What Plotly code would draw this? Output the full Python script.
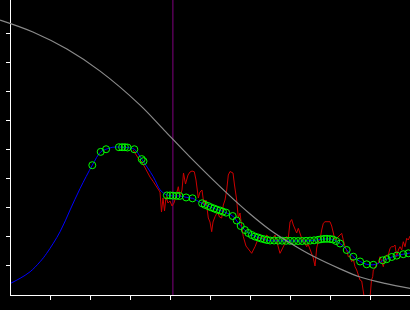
import plotly.graph_objects as go

# Gray reference curve
gray_x = [-0.26, 0.56, 1.41, 2.24, 3.24, 3.84, 4.49, 5.41, 5.99, 6.49, 6.99, 7.56, 8.24, 8.74, 9.36, 9.99]
gray_y = [9.47, 9.06, 8.47, 7.71, 6.54, 5.68, 4.75, 3.51, 2.79, 2.24, 1.79, 1.34, 0.90, 0.62, 0.40, 0.23]

# Blue smoothed curve
blue_x = [0.00, 0.24, 0.49, 0.74, 0.905, 1.24, 1.49, 1.74, 2.045, 2.255, 2.39, 2.56, 2.78, 2.91, 3.095,
          3.28, 3.57, 3.74, 3.86, 3.945, 4.11, 4.24, 4.39, 4.55, 4.66, 4.79, 4.99, 5.24, 5.41, 5.555,
          5.66, 5.76, 5.86, 6.03, 6.19, 6.36, 6.44, 6.86, 7.24, 7.56, 7.74, 7.91, 8.06, 8.16, 8.29,
          8.41, 8.56, 8.74, 8.905, 9.06, 9.19, 9.31, 9.41, 9.54, 9.66, 9.81, 9.99]
blue_y = [0.40, 0.575, 0.80, 1.147, 1.436, 2.18, 2.93, 3.67, 4.47, 4.93, 5.02, 5.09, 5.09, 5.08, 5.02,
          4.68, 4.07, 3.62, 3.48, 3.43, 3.416, 3.409, 3.364, 3.33, 3.254, 3.158, 3.03, 2.91, 2.824, 2.72,
          2.548, 2.359, 2.238, 2.066, 1.98, 1.911, 1.877, 1.866, 1.859, 1.877, 1.911, 1.935, 1.911, 1.842, 1.722,
          1.55, 1.326, 1.154, 1.057, 1.04, 1.085, 1.188, 1.24, 1.309, 1.36, 1.402, 1.446]

# Green selected points
green_x = [2.045, 2.255, 2.39, 2.71, 2.79, 2.86, 2.925, 3.095, 3.28, 3.325,
           3.91, 3.99, 4.06, 4.15, 4.225, 4.39, 4.55,
           4.79, 4.86, 4.94, 5.01, 5.09, 5.16, 5.24, 5.31, 5.39,
           5.555, 5.655, 5.755, 5.86, 5.945, 6.03, 6.11, 6.19, 6.26, 6.34, 6.41, 6.49,
           6.59, 6.69, 6.79, 6.89, 6.99, 7.09, 7.19, 7.29, 7.39, 7.49, 7.59, 7.69, 7.76,
           7.84, 7.91, 7.99, 8.06, 8.14, 8.24, 8.405, 8.57, 8.74, 8.905, 9.07,
           9.305, 9.405, 9.53, 9.655, 9.82, 9.945]
green_y = [4.47, 4.93, 5.02, 5.09, 5.09, 5.09, 5.08, 5.02, 4.68, 4.61,
           3.43, 3.43, 3.42, 3.415, 3.41, 3.36, 3.33,
           3.158, 3.106, 3.065, 3.02, 2.979, 2.941, 2.91, 2.872, 2.837,
           2.72, 2.565, 2.376, 2.238, 2.135, 2.066, 2.014, 1.98, 1.946, 1.918, 1.894, 1.877,
           1.877, 1.873, 1.87, 1.866, 1.864, 1.86, 1.859, 1.86, 1.866, 1.873, 1.884, 1.901, 1.918,
           1.932, 1.935, 1.928, 1.911, 1.86, 1.773, 1.55, 1.319, 1.154, 1.057, 1.04,
           1.195, 1.233, 1.309, 1.357, 1.405, 1.436]

# Red noisy observations
red_x = [3.07, 3.195, 3.2875, 3.405, 3.4875, 3.57, 3.6625, 3.7375, 3.775, 3.8125, 3.85, 3.8875, 3.9375,
         3.9875, 4.0375, 4.0875, 4.1375, 4.195, 4.2375, 4.2875, 4.325, 4.375, 4.4375, 4.4875, 4.5375,
         4.595, 4.6375, 4.695, 4.7375, 4.7875, 4.8375, 4.8875, 4.945, 4.9875, 5.03, 5.0625, 5.1125,
         5.175, 5.225, 5.28, 5.32, 5.3625, 5.405, 5.445, 5.4875, 5.5625, 5.6, 5.655, 5.695, 5.7375,
         5.78, 5.82, 5.8875, 5.9875, 6.03, 6.07, 6.1125, 6.195, 6.28, 6.3375, 6.405, 6.4875, 6.57,
         6.6125, 6.655, 6.695, 6.7375, 6.78, 6.82, 6.8625, 6.905, 6.945, 6.9875, 7.03, 7.07, 7.1125,
         7.155, 7.195, 7.2375, 7.28, 7.32, 7.3625, 7.405, 7.4375, 7.4875, 7.53, 7.57, 7.6125, 7.655,
         7.695, 7.7375, 7.78, 7.82, 7.8625, 7.9875, 8.03, 8.07, 8.1125, 8.1625, 8.2375, 8.28, 8.32,
         8.3625, 8.405, 8.445, 8.4875, 8.53, 8.57, 8.6125, 8.655, 8.695, 8.7375, 8.78, 8.82, 8.845,
         8.9875, 9.025, 9.055, 9.07, 9.1125, 9.155, 9.195, 9.2375, 9.28, 9.32, 9.3625, 9.405, 9.445,
         9.4875, 9.53, 9.57, 9.6125, 9.655, 9.695, 9.7375, 9.78, 9.82, 9.8625, 9.905, 9.945, 9.9875]
red_y = [4.99, 4.707, 4.58, 4.246, 4.063, 3.902, 3.719, 3.547, 2.858, 3.34, 2.893, 3.375, 3.168,
         3.237, 3.065, 3.168, 3.409, 3.729, 3.375, 3.616, 4.201, 3.822, 4.132, 4.236, 4.27,
         4.246, 3.96, 3.34, 3.547, 3.616, 3.099, 3.271, 2.652, 2.514, 2.18, 2.514, 2.696,
         2.858, 2.686, 2.652, 3.099, 3.271, 3.616, 4.132, 4.253, 4.201, 3.788, 3.271, 2.652, 2.824,
         2.352, 2.008, 1.687, 1.491, 1.436, 1.55, 1.663, 1.952, 2.008, 1.86, 2.066, 1.963, 1.952,
         2.066, 1.835, 1.663, 1.436, 1.55, 1.663, 1.78, 2.008, 1.963, 2.514, 2.6, 2.41, 2.238,
         2.135, 2.297, 2.125, 1.952, 1.894, 1.791, 1.663, 1.756, 1.55, 1.412, 1.274, 0.999, 1.618,
         1.86, 1.894, 2.238, 2.469, 2.524, 2.524, 2.376, 2.169, 1.894, 1.963, 2.066, 2.125, 1.894,
         1.663, 1.55, 1.319, 1.343, 1.147, 1.24, 0.975, 0.861, 0.689, 0.517, 0.482, 0.103, -0.1,
         -0.1, 0.517, 0.63, 0.861, 0.919, 1.092, 1.092, 1.319, 1.147, 0.975, 1.264, 1.377, 1.377,
         1.608, 1.663, 1.663, 1.722, 1.319, 1.55, 1.663, 1.55, 1.835, 1.663, 1.952, 1.894, 2.032]

current_x = 4.06
x_ticks = [1, 2, 3, 4, 5, 6, 7, 8, 9]
y_ticks = [1, 2, 3, 4, 5, 6, 7, 8, 9]
x_range = [0, 9.9875]
x2_range = [-0.2625, 9.9875]
y_range = [0, 10.16]

fig = go.Figure()
fig.add_trace(go.Scatter(x=[current_x, current_x], y=y_range, mode="lines",
                         line=dict(color="#800080", width=1), hoverinfo="skip"))
fig.add_trace(go.Scatter(x=red_x, y=red_y, mode="lines",
                         line=dict(color="#cc0000", width=1)))
fig.add_trace(go.Scatter(x=blue_x, y=blue_y, mode="lines", line_shape="spline",
                         line=dict(color="#0000ff", width=1)))
fig.add_trace(go.Scatter(x=green_x, y=green_y, mode="markers",
                         marker=dict(symbol="circle-open", size=7, color="#00ff00",
                                     line=dict(width=1, color="#00ff00"))))
fig.add_trace(go.Scatter(x=gray_x, y=gray_y, mode="lines", line_shape="spline",
                         line=dict(color="#8a8a8a", width=1.2), xaxis="x2", yaxis="y2"))

fig.update_layout(
    width=410, height=310,
    margin=dict(l=0, r=0, t=0, b=15, pad=0),
    paper_bgcolor="black", plot_bgcolor="rgba(0,0,0,0)",
    showlegend=False,
    xaxis=dict(domain=[10.5 / 410, 1], range=x_range, tickvals=x_ticks, ticks="outside",
               ticklen=4, tickcolor="white", tickwidth=1, showticklabels=False,
               showline=True, linecolor="white", linewidth=1, showgrid=False, zeroline=False,
               anchor="y"),
    yaxis=dict(domain=[0, 1], range=y_range, tickvals=y_ticks, ticks="outside",
               ticklen=4, tickcolor="white", tickwidth=1, showticklabels=False,
               showline=True, linecolor="white", linewidth=1, showgrid=False, zeroline=False,
               anchor="x"),
    xaxis2=dict(domain=[0, 1], range=x2_range, visible=False, anchor="y2", showgrid=False),
    yaxis2=dict(domain=[0, 1], range=y_range, visible=False, anchor="x2", showgrid=False),
)

fig.write_html("out.html")
